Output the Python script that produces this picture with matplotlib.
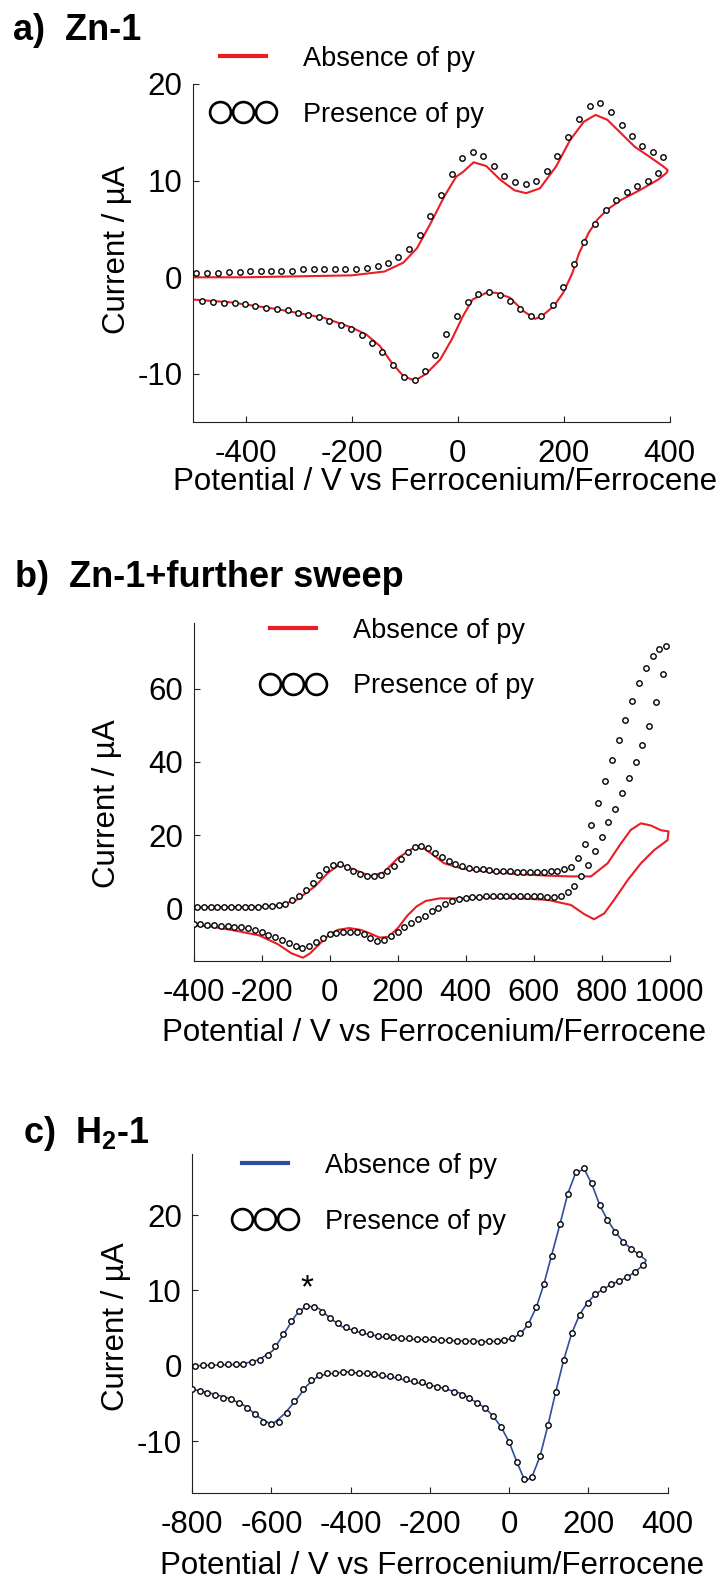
import matplotlib
matplotlib.use("Agg")
import matplotlib.pyplot as plt
from matplotlib.lines import Line2D

plt.rcParams['font.family'] = ['Liberation Sans', 'DejaVu Sans']
plt.rcParams['axes.unicode_minus'] = False
plt.rcParams['mathtext.fontset'] = 'custom'
plt.rcParams['mathtext.rm'] = 'Liberation Sans'
plt.rcParams['mathtext.bf'] = 'Liberation Sans:bold'

RED = '#ec1c24'
BLUE = '#2e4f9e'

# ---- a) Zn-1 ----
zn_line_fwd_x = [-500, -400, -300, -200, -138, -103, -77, -51, -25, -3, 10, 30, 54, 80, 107, 129, 155, 186,
                 212, 238, 260, 282, 308, 334, 361, 387, 396]
zn_line_fwd_y = [0.0, 0.0, 0.1, 0.2, 0.6, 1.5, 3.0, 5.6, 8.4, 10.4, 10.9, 11.9, 11.5, 10.1, 9.0, 8.7, 9.2, 11.5,
                 14.2, 16.1, 16.8, 16.3, 14.9, 13.5, 12.5, 11.5, 11.1]
zn_line_rev_x = [396, 394, 378, 343, 308, 282, 264, 247, 229, 216, 199, 181, 159, 146, 124, 98, 72, 54, 28, 10,
                 -11, -33, -60, -81, -103, -125, -147, -173, -200, -252, -340, -427, -500]
zn_line_rev_y = [11.1, 10.8, 10.1, 9.0, 8.0, 7.0, 6.0, 4.6, 2.5, 0.4, -1.6, -3.0, -4.0, -4.3, -3.5, -2.1, -1.6,
                 -1.6, -2.3, -4.0, -6.4, -8.5, -10.0, -10.7, -10.2, -8.8, -7.1, -5.9, -5.2, -4.2, -3.3, -2.6, -2.3]

zn_py_fwd_x = [-493, -473, -452, -431, -411, -392, -372, -353, -333, -312, -291, -271, -252, -232, -212,
               -192, -171, -151, -131, -112, -92, -72, -52, -32, -11, 8, 28, 48, 68, 88,
               108, 128, 148, 168, 188, 208, 229, 249, 269, 289, 309, 328, 348, 368, 388]
zn_py_fwd_y = [0.4, 0.45, 0.45, 0.5, 0.5, 0.6, 0.6, 0.7, 0.7, 0.7, 0.85, 0.85, 0.85, 0.9, 0.9,
               0.9, 1.0, 1.2, 1.5, 2.1, 2.9, 4.4, 6.3, 8.5, 10.7, 12.3, 13.0, 12.5, 11.5, 10.5,
               9.9, 9.7, 10.0, 11.0, 12.5, 14.5, 16.4, 17.7, 18.0, 17.1, 15.8, 14.6, 13.6, 13.0, 12.4]
zn_py_rev_x = [378, 359, 339, 320, 299, 279, 259, 239, 219, 199, 179, 158, 138, 118, 98,
               79, 59, 39, 19, -1, -22, -42, -62, -81, -102, -123, -142, -161, -181, -201,
               -221, -242, -262, -282, -302, -321, -341, -362, -382, -401, -421, -441, -462, -482]
zn_py_rev_y = [10.8, 10.0, 9.4, 8.8, 8.0, 7.0, 5.5, 3.6, 1.4, -1.0, -2.9, -4.0, -4.0, -3.3, -2.5,
               -1.8, -1.5, -1.7, -2.6, -4.0, -5.9, -8.0, -9.7, -10.6, -10.3, -9.1, -7.7, -6.8, -6.0, -5.4,
               -4.9, -4.5, -4.1, -3.85, -3.7, -3.4, -3.3, -3.2, -3.0, -2.8, -2.7, -2.65, -2.6, -2.5]

# ---- b) Zn-1 + further sweep ----
sw_line_fwd_x = [-400, -300, -200, -150, -98, -44, -3, 31, 79, 120, 160, 201, 242, 269, 303, 337, 392, 445,
                 543, 641, 710, 769, 818, 857, 886, 916, 945, 975, 997]
sw_line_fwd_y = [0.3, 0.3, 0.4, 0.8, 2.2, 5.9, 9.8, 12.0, 10.3, 8.8, 9.8, 13.7, 16.2, 16.9, 14.7, 12.3, 10.8,
                 10.2, 9.4, 8.9, 8.7, 8.7, 12.3, 17.7, 21.4, 23.2, 22.6, 21.3, 21.0]
sw_line_rev_x = [997, 994, 955, 916, 877, 837, 808, 778, 749, 710, 641, 543, 445, 392, 324, 283, 256, 229,
                 201, 174, 147, 120, 92, 58, 24, -3, -30, -57, -78, -112, -152, -207, -288, -356, -400]
sw_line_rev_y = [21.0, 18.6, 15.9, 12.3, 7.7, 2.3, -1.4, -3.0, -1.6, 0.9, 2.3, 2.8, 3.0, 2.7, 2.7, 2.0, 0.5,
                 -2.0, -5.4, -7.8, -8.0, -6.9, -5.9, -5.4, -5.9, -7.4, -9.8, -12.3, -13.5, -12.3, -9.8, -7.4,
                 -5.9, -4.9, -4.6]

sw_py_fwd_x = [-390, -370, -350, -330, -310, -290, -270, -250, -230, -210,
               -190, -170, -150, -130, -110, -90, -70, -50, -30, -10,
               10, 30, 50, 70, 90, 110, 130, 150, 170, 190,
               210, 230, 250, 270, 290, 310, 330, 350, 370, 390,
               410, 430, 450, 470, 490, 510, 530, 550, 570, 590,
               610, 630, 650, 670, 690, 710, 730, 750, 770, 790,
               810, 830, 850, 870, 890, 910, 930, 950, 970, 990]
sw_py_fwd_y = [0.3, 0.3, 0.3, 0.3, 0.35, 0.4, 0.4, 0.4, 0.4, 0.45,
               0.5, 0.6, 0.9, 1.3, 2.2, 3.4, 4.9, 6.8, 9.0, 10.8,
               11.9, 12.1, 11.4, 10.3, 9.4, 8.9, 8.8, 9.2, 10.1, 11.6,
               13.5, 15.3, 16.6, 17.0, 16.4, 15.2, 14.0, 12.9, 12.1, 11.5,
               11.1, 10.8, 10.6, 10.4, 10.3, 10.2, 10.1, 10.0, 10.0, 10.0,
               10.0, 10.0, 10.1, 10.2, 10.6, 11.4, 13.7, 17.5, 22.8, 28.8,
               34.7, 40.5, 45.9, 51.4, 56.6, 61.4, 65.6, 68.9, 70.7, 71.7]
sw_py_rev_x = [980, 960, 940, 920, 900, 880, 860, 840, 820, 800,
               780, 760, 740, 720, 700, 680, 660, 640, 620, 600,
               580, 560, 540, 520, 500, 480, 460, 440, 420, 400,
               380, 360, 340, 320, 300, 280, 260, 240, 220, 200,
               180, 160, 140, 120, 100, 80, 60, 40, 20, 0,
               -20, -40, -60, -80, -100, -120, -140, -160, -180, -200,
               -220, -240, -260, -280, -300, -320, -340, -360, -380, -400]
sw_py_rev_y = [63.9, 56.3, 49.9, 44.6, 39.9, 35.6, 31.4, 27.2, 23.5, 19.4,
               15.6, 11.9, 8.9, 6.1, 4.5, 3.4, 3.2, 3.2, 3.3, 3.3,
               3.3, 3.3, 3.3, 3.3, 3.3, 3.3, 3.3, 3.2, 3.1, 2.9,
               2.5, 2.0, 1.2, 0.2, -0.8, -2.0, -2.9, -4.1, -5.1, -6.4,
               -7.6, -8.6, -8.8, -8.0, -7.1, -6.6, -6.4, -6.4, -6.7, -7.1,
               -8.0, -9.3, -10.3, -10.8, -10.3, -9.6, -8.6, -7.8, -7.2, -6.4,
               -5.9, -5.5, -5.2, -5.1, -4.9, -4.9, -4.7, -4.6, -4.4, -4.4]

# ---- c) H2-1 ----
h2_line_fwd_x = [-800, -740, -677, -632, -597, -568, -539, -512, -480, -451, -422, -375, -317, -236, -119,
                 -49, -10, 10, 30, 49, 69, 87, 107, 128, 148, 168, 190, 209, 229, 249, 269, 289, 309, 330, 346]
h2_line_fwd_y = [0.0, 0.1, 0.2, 0.8, 2.0, 4.3, 6.7, 8.0, 7.6, 6.3, 5.2, 4.4, 3.8, 3.5, 3.3,
                 3.2, 3.4, 3.7, 4.3, 5.6, 7.8, 10.7, 14.6, 18.7, 22.8, 25.6, 26.1, 24.1, 21.3, 19.3, 17.7,
                 16.4, 15.5, 14.7, 14.0]
h2_line_rev_x = [346, 339, 319, 299, 279, 258, 238, 218, 198, 178, 158, 138, 118, 98, 78, 58, 44, 38, 20, 0,
                 -20, -40, -60, -84, -119, -177, -236, -294, -352, -411, -446, -481, -510, -539, -568, -592,
                 -603, -632, -667, -702, -748, -800]
h2_line_rev_y = [14.0, 13.4, 12.5, 11.8, 11.3, 10.8, 10.2, 9.5, 8.4, 6.8, 4.3, 0.8, -3.4, -7.9, -12.0, -14.7,
                 -15.2, -15.0, -12.8, -10.1, -8.1, -6.7, -5.6, -4.8, -3.7, -2.8, -2.2, -1.5, -1.1, -0.8, -1.0,
                 -1.3, -2.6, -4.6, -6.4, -7.5, -7.7, -6.8, -5.3, -4.4, -3.7, -3.1]

h2_py_fwd_x = [-793, -772, -752, -731, -711, -690, -671, -650, -630, -609,
               -590, -570, -551, -531, -512, -492, -472, -451, -431, -412,
               -392, -372, -352, -331, -311, -292, -272, -252, -232, -212,
               -192, -171, -152, -132, -112, -92, -72, -51, -31, -12,
               7, 28, 48, 68, 89, 108, 128, 148, 168, 189,
               209, 229, 248, 268, 288, 308, 328]
h2_py_fwd_y = [0.0, 0.1, 0.1, 0.2, 0.2, 0.3, 0.3, 0.5, 0.8, 1.5,
               2.6, 4.2, 5.9, 7.3, 8.0, 7.8, 7.1, 6.4, 5.7, 5.2,
               4.8, 4.5, 4.2, 4.0, 3.9, 3.8, 3.7, 3.7, 3.6, 3.6,
               3.5, 3.4, 3.4, 3.3, 3.3, 3.3, 3.2, 3.3, 3.3, 3.4,
               3.7, 4.3, 5.6, 7.8, 10.8, 14.6, 18.8, 22.8, 25.7, 26.2,
               24.2, 21.3, 19.3, 17.7, 16.4, 15.5, 14.8]
h2_py_rev_x = [338, 318, 298, 278, 258, 238, 218, 198, 178, 158,
               138, 118, 98, 78, 58, 38, 20, 0, -20, -40,
               -60, -80, -100, -120, -140, -161, -181, -201, -220, -240,
               -260, -280, -300, -320, -341, -360, -380, -400, -420, -440,
               -459, -480, -501, -521, -542, -562, -582, -602, -622, -641,
               -661, -681, -702, -722, -742, -762, -781, -800]
h2_py_rev_y = [13.4, 12.5, 11.8, 11.3, 10.8, 10.2, 9.5, 8.4, 6.8, 4.3,
               0.8, -3.4, -7.9, -12.0, -14.7, -15.0, -12.8, -10.1, -8.1, -6.7,
               -5.6, -4.9, -4.3, -3.8, -3.4, -3.0, -2.8, -2.5, -2.2, -2.0,
               -1.7, -1.5, -1.3, -1.2, -1.1, -1.0, -0.9, -0.85, -0.85, -0.9,
               -1.0, -1.2, -1.9, -3.1, -4.6, -6.2, -7.5, -7.7, -7.4, -6.4,
               -5.6, -4.9, -4.4, -4.2, -3.9, -3.6, -3.3, -3.1]

legend_labels = ['Absence of py', 'Presence of py']
x_label = 'Potential / V vs Ferrocenium/Ferrocene'
y_label = 'Current / \u00b5A'

fig = plt.figure(figsize=(7.25, 15.84), dpi=100)


def make_panel(rect, xlim, ylim, xticks, yticks, xlab_xy, ylab_xy):
    ax = fig.add_axes(rect)
    ax.set_xlim(*xlim)
    ax.set_ylim(*ylim)
    ax.set_xticks(xticks)
    ax.set_yticks(yticks)
    for side in ('top', 'right'):
        ax.spines[side].set_visible(False)
    for side in ('left', 'bottom'):
        ax.spines[side].set_linewidth(0.8)
        ax.spines[side].set_color('#222222')
    ax.tick_params(axis='both', direction='in', length=4.5, width=0.8, color='#222222', labelsize=22.5)
    ax.tick_params(axis='x', pad=12)
    ax.tick_params(axis='y', pad=7.5)
    ax.set_xlabel(x_label, fontsize=22.5)
    ax.set_ylabel(y_label, fontsize=22.5)
    ax.xaxis.set_label_coords(*xlab_xy)
    ax.yaxis.set_label_coords(*ylab_xy)
    return ax


def plot_cv(ax, line_x, line_y, dots_x, dots_y, color, lw):
    ax.plot(line_x, line_y, color=color, lw=lw, zorder=2)
    ax.plot(dots_x, dots_y, ls='none', marker='o', ms=3.9, mfc='white', mec='black', mew=1.0, zorder=3)


def add_legend(ax, color, anchor):
    handles = [Line2D([], [], color=color, lw=3.0),
               Line2D([], [], ls='none', marker='o', ms=15, mfc='none', mec='black', mew=1.9)]
    ax.legend(handles, legend_labels, loc='upper left', bbox_to_anchor=anchor,
              bbox_transform=fig.transFigure, frameon=False, numpoints=3, handlelength=2.3,
              handletextpad=1.07, labelspacing=1.1, borderpad=0, borderaxespad=0, fontsize=19.5)


# a) Zn-1
ax_a = make_panel([0.2658, 0.7334, 0.658, 0.2136], (-500, 400), (-15, 20),
                  [-400, -200, 0, 200, 400], [-10, 0, 10, 20], (0.5285, -0.133), (-0.128, 0.509))
plot_cv(ax_a, zn_line_fwd_x + zn_line_rev_x, zn_line_fwd_y + zn_line_rev_y,
        zn_py_fwd_x + zn_py_rev_x, zn_py_fwd_y + zn_py_rev_y, RED, 1.5)
add_legend(ax_a, RED, (0.2924, 0.9710))
fig.text(0.0179, 1 - 40 / 1584, 'a)  Zn-1', fontsize=26, fontweight='bold', va='baseline')

# b) Zn-1 + further sweep
ax_b = make_panel([0.2669, 0.3933, 0.6566, 0.2134], (-400, 1000), (-14.4, 77.9),
                  [-400, -200, 0, 200, 400, 600, 800, 1000], [0, 20, 40, 60], (0.505, -0.1686), (-0.151, 0.467))
plot_cv(ax_b, sw_line_fwd_x + sw_line_rev_x, sw_line_fwd_y + sw_line_rev_y,
        sw_py_fwd_x + sw_py_rev_x, sw_py_fwd_y + sw_py_rev_y, RED, 1.5)
add_legend(ax_b, RED, (0.3606, 0.6101))
fig.text(0.0207, 1 - 587 / 1584, 'b)  Zn-1+further sweep', fontsize=26, fontweight='bold', va='baseline')

# c) H2-1
ax_c = make_panel([0.2652, 0.05726, 0.6555, 0.2142], (-800, 400), (-16.9, 28.1),
                  [-800, -600, -400, -200, 0, 200, 400], [-10, 0, 10, 20], (0.504, -0.171), (-0.128, 0.491))
plot_cv(ax_c, h2_line_fwd_x + h2_line_rev_x, h2_line_fwd_y + h2_line_rev_y,
        h2_py_fwd_x + h2_py_rev_x, h2_py_fwd_y + h2_py_rev_y, BLUE, 1.2)
add_legend(ax_c, BLUE, (0.3219, 0.2722))
ax_c.text(-510, 10.2, '*', fontsize=24, ha='center', va='center')
fig.text(0.0317, 1 - 1143 / 1584, r'c)  H$_\mathbf{2}$-1', fontsize=26, fontweight='bold', va='baseline')

fig.savefig('out.png', dpi=100)
